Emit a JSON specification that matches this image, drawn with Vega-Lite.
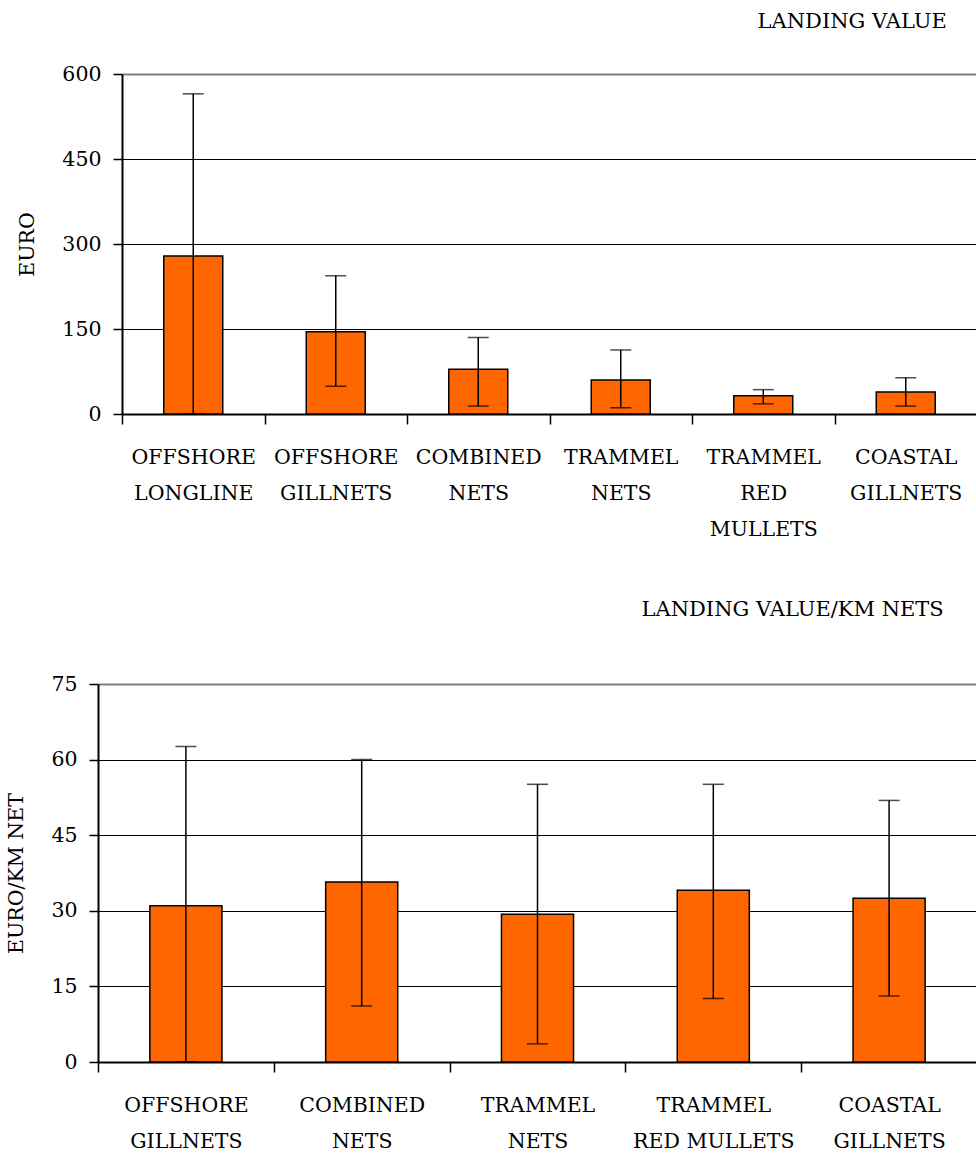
{
  "$schema": "https://vega.github.io/schema/vega-lite/v6.json",
  "background": "white",
  "padding": {"left": 6, "top": 11, "right": 0, "bottom": 0},
  "columns": 1,
  "align": "none",
  "spacing": 59,
  "config": {
    "view": {"stroke": null},
    "font": "DejaVu Serif",
    "title": {"font": "DejaVu Serif", "fontSize": 21, "fontWeight": "normal", "color": "black", "anchor": "end"},
    "axis": {
      "labelFont": "DejaVu Serif", "labelFontSize": 20.5, "labelColor": "black",
      "titleFont": "DejaVu Serif", "titleFontSize": 20.5, "titleFontWeight": "normal", "titleColor": "black",
      "domainColor": "black", "domainWidth": 2, "tickColor": "black", "tickWidth": 1.5
    },
    "axisY": {"tickSize": 9, "labelPadding": 12, "titlePadding": 24, "gridColor": "black", "gridWidth": 1},
    "axisX": {"tickSize": 10, "labelAngle": 0, "labelPadding": 23, "labelLineHeight": 36, "tickBand": "extent", "labelExpr": "split(datum.label, '|')", "grid": false, "title": null}
  },
  "datasets": {
    "top": [
      {"gear": "OFFSHORE|LONGLINE", "value": 279, "low": 0, "high": 565},
      {"gear": "OFFSHORE|GILLNETS", "value": 145, "low": 49, "high": 244},
      {"gear": "COMBINED|NETS", "value": 79, "low": 14, "high": 135},
      {"gear": "TRAMMEL|NETS", "value": 60, "low": 11, "high": 113},
      {"gear": "TRAMMEL|RED|MULLETS", "value": 32, "low": 18, "high": 43},
      {"gear": "COASTAL|GILLNETS", "value": 39, "low": 14, "high": 64}
    ],
    "bottom": [
      {"gear": "OFFSHORE|GILLNETS", "value": 31, "low": 0, "high": 62.6},
      {"gear": "COMBINED|NETS", "value": 35.7, "low": 11.1, "high": 60},
      {"gear": "TRAMMEL|NETS", "value": 29.3, "low": 3.6, "high": 55.1},
      {"gear": "TRAMMEL|RED MULLETS", "value": 34.1, "low": 12.6, "high": 55.1},
      {"gear": "COASTAL|GILLNETS", "value": 32.5, "low": 13.1, "high": 51.9}
    ]
  },
  "concat": [
    {
      "data": {"name": "top"},
      "width": 879,
      "height": 340,
      "title": {"text": "LANDING VALUE", "dx": -31, "offset": 32},
      "encoding": {
        "x": {"field": "gear", "type": "nominal", "sort": null, "scale": {"range": [24, 879], "paddingInner": 0, "paddingOuter": 0}}
      },
      "layer": [
        {
          "mark": {"type": "bar", "color": "#FF6600", "stroke": "black", "strokeWidth": 1.5, "width": {"band": 0.414}},
          "encoding": {
            "y": {"field": "value", "type": "quantitative", "title": "EURO",
              "scale": {"domain": [0, 600], "nice": false},
              "axis": {"values": [0, 150, 300, 450, 600], "offset": -24,
                "gridColor": {"condition": {"test": "datum.value === 600", "value": "#808080"}, "value": "black"},
                "gridWidth": {"condition": {"test": "datum.value === 600", "value": 2}, "value": 1}}}
          }
        },
        {
          "mark": {"type": "rule", "color": "black", "strokeWidth": 1.5},
          "encoding": {"y": {"field": "low", "type": "quantitative", "title": "EURO", "scale": {"domain": [0, 600], "nice": false}}, "y2": {"field": "high"}}
        },
        {
          "mark": {"type": "tick", "color": "black", "thickness": 1.5, "size": 21},
          "encoding": {"y": {"field": "high", "type": "quantitative", "title": "EURO", "scale": {"domain": [0, 600], "nice": false}}}
        },
        {
          "mark": {"type": "tick", "color": "black", "thickness": 1.5, "size": 21},
          "encoding": {"y": {"field": "low", "type": "quantitative", "title": "EURO", "scale": {"domain": [0, 600], "nice": false}}}
        }
      ]
    },
    {
      "data": {"name": "bottom"},
      "width": 879,
      "height": 378,
      "title": {"text": "LANDING VALUE/KM NETS", "dx": -34, "offset": 54},
      "encoding": {
        "x": {"field": "gear", "type": "nominal", "sort": null, "scale": {"paddingInner": 0, "paddingOuter": 0}}
      },
      "layer": [
        {
          "mark": {"type": "bar", "color": "#FF6600", "stroke": "black", "strokeWidth": 1.5, "width": {"band": 0.41}},
          "encoding": {
            "y": {"field": "value", "type": "quantitative", "title": "EURO/KM NET",
              "scale": {"domain": [0, 75], "nice": false},
              "axis": {"values": [0, 15, 30, 45, 60, 75],
                "gridColor": {"condition": {"test": "datum.value === 75", "value": "#808080"}, "value": "black"},
                "gridWidth": {"condition": {"test": "datum.value === 75", "value": 2}, "value": 1}}}
          }
        },
        {
          "mark": {"type": "rule", "color": "black", "strokeWidth": 1.5},
          "encoding": {"y": {"field": "low", "type": "quantitative", "title": "EURO/KM NET", "scale": {"domain": [0, 75], "nice": false}}, "y2": {"field": "high"}}
        },
        {
          "mark": {"type": "tick", "color": "black", "thickness": 1.5, "size": 21},
          "encoding": {"y": {"field": "high", "type": "quantitative", "title": "EURO/KM NET", "scale": {"domain": [0, 75], "nice": false}}}
        },
        {
          "mark": {"type": "tick", "color": "black", "thickness": 1.5, "size": 21},
          "encoding": {"y": {"field": "low", "type": "quantitative", "title": "EURO/KM NET", "scale": {"domain": [0, 75], "nice": false}}}
        }
      ]
    }
  ]
}
